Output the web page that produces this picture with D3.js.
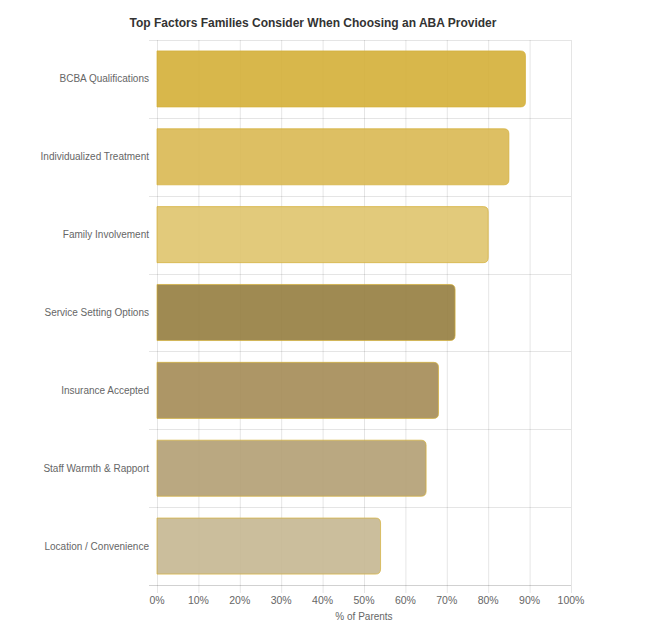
<!DOCTYPE html>
<html>
<head>
<meta charset="utf-8">
<script src="https://cdn.jsdelivr.net/npm/d3@7"></script>
<style>
  body { margin: 0; background: #fff; }
  svg { display: block; font-family: "Liberation Sans", Arial, Helvetica, sans-serif; }
</style>
</head>
<body>
<script>
const categories = ['BCBA Qualifications', 'Individualized Treatment', 'Family Involvement', 'Service Setting Options', 'Insurance Accepted', 'Staff Warmth & Rapport', 'Location / Convenience']
const values = [89, 85, 80, 72, 68, 65, 54]
const barColors = ['#D4AF37', '#D9B852', '#DFC46D', '#957D3F', '#A48B55', '#B29F73', '#C5B791']
const xTicks = [0, 10, 20, 30, 40, 50, 60, 70, 80, 90, 100]

const svg = d3.select('body').append('svg')
  .attr('width', 668)
  .attr('height', 631)

const margin = { top: 40, right: 97, bottom: 46, left: 157 }
const width = 668 - margin.left - margin.right
const height = 631 - margin.top - margin.bottom

const x = d3.scaleLinear().domain([0, 100]).range([0, width])
const y = d3.scaleBand().domain(categories).range([0, height]).paddingInner(0.28).paddingOuter(0.14)
const yBand = d3.scaleBand().domain(categories).range([0, height])

svg.append('text')
  .attr('x', 313)
  .attr('y', 27)
  .attr('text-anchor', 'middle')
  .attr('font-size', 12)
  .attr('font-weight', 'bold')
  .attr('fill', '#333')
  .text('Top Factors Families Consider When Choosing an ABA Provider')

const g = svg.append('g').attr('transform', `translate(${margin.left},${margin.top})`)

// vertical grid
g.append('g')
  .selectAll('line')
  .data(xTicks)
  .enter()
  .append('line')
  .attr('x1', (d) => x(d) + 0.5)
  .attr('x2', (d) => x(d) + 0.5)
  .attr('y1', 0)
  .attr('y2', height + 8)
  .attr('stroke', 'rgba(0,0,0,0.1)')

// horizontal grid at category boundaries
const hLines = categories.map((c) => yBand(c)).concat([height])
g.append('g')
  .selectAll('line')
  .data(hLines)
  .enter()
  .append('line')
  .attr('x1', -8)
  .attr('x2', width)
  .attr('y1', (d) => Math.round(d) + 0.5)
  .attr('y2', (d) => Math.round(d) + 0.5)
  .attr('stroke', (d, i) => i === hLines.length - 1 ? 'rgba(0,0,0,0.18)' : 'rgba(0,0,0,0.1)')

// bars, rounded on the right end
const r = 5
g.selectAll('.bar')
  .data(values)
  .enter()
  .append('path')
  .attr('class', 'bar')
  .attr('d', (d, i) => {
    const y0 = y(categories[i])
    const h = y.bandwidth()
    const w = x(d)
    return `M0,${y0} H${w - r} Q${w},${y0} ${w},${y0 + r} V${y0 + h - r} Q${w},${y0 + h} ${w - r},${y0 + h} H0 Z`
  })
  .attr('fill', (d, i) => barColors[i])
  .attr('fill-opacity', 0.9)
  .attr('stroke', 'rgba(212,175,55,0.7)')
  .attr('stroke-width', 1)

// y labels
g.append('g')
  .selectAll('text')
  .data(categories)
  .enter()
  .append('text')
  .attr('x', -8)
  .attr('y', (d) => y(d) + y.bandwidth() / 2)
  .attr('dy', '0.35em')
  .attr('text-anchor', 'end')
  .attr('font-size', 10)
  .attr('fill', '#666')
  .text((d) => d)

// x tick labels
g.append('g')
  .selectAll('text')
  .data(xTicks)
  .enter()
  .append('text')
  .attr('x', (d) => x(d))
  .attr('y', height + 19)
  .attr('text-anchor', 'middle')
  .attr('font-size', 10.5)
  .attr('fill', '#666')
  .text((d) => d + '%')

g.append('text')
  .attr('x', width / 2)
  .attr('y', height + 35)
  .attr('text-anchor', 'middle')
  .attr('font-size', 10)
  .attr('fill', '#666')
  .text('% of Parents')
</script>
</body>
</html>
